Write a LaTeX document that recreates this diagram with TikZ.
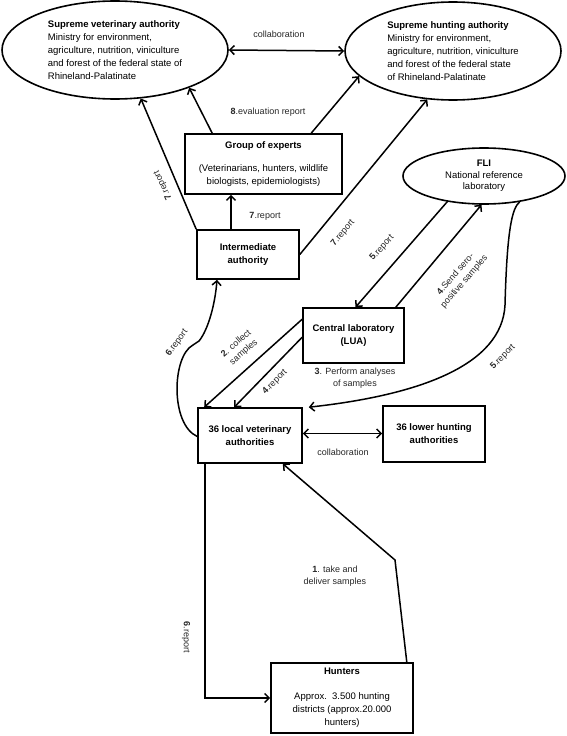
\documentclass[tikz,border=0pt]{standalone}
\usepackage{fontspec}
\setmainfont{Liberation Sans}
\usetikzlibrary{shapes.geometric,arrows.meta}

\begin{document}
\begin{tikzpicture}[x=1pt, y=-1pt, >={Straight Barb[length=4.5pt,width=9pt]},
  font=\fontsize{9.5}{13}\selectfont,
  box/.style={draw, line width=1.6pt, align=center, inner sep=2pt},
  oval/.style={draw, ellipse, line width=1.6pt, inner sep=0pt},
  link/.style={->, line width=1.5pt},
  note/.style={font=\fontsize{9}{11.5}\selectfont, text=black!85, align=center, inner sep=1pt}]
\useasboundingbox (0,0) rectangle (567,736);

% authorities at the top
\node[oval, minimum width=226, minimum height=98, align=left] (vet) at (115,50)
  {\textbf{Supreme veterinary authority}\\Ministry for environment,\\agriculture, nutrition, viniculture\\and forest of the federal state of\\Rhineland-Palatinate};
\node[oval, minimum width=216, minimum height=98, align=left] (hunt) at (453,51)
  {\textbf{Supreme hunting authority}\\Ministry for environment,\\agriculture, nutrition, viniculture\\and forest of the federal state\\of Rhineland-Palatinate};
\node[oval, minimum width=162, minimum height=56, align=center,
  font=\fontsize{9.5}{11.5}\selectfont] (fli) at (484,176)
  {\textbf{FLI}\\National reference\\laboratory};

\node[box, minimum width=157, minimum height=60] (experts) at (263.5,164)
  {\textbf{Group of experts}\\[10pt](Veterinarians, hunters, wildlife\\biologists, epidemiologists)};
\node[box, minimum width=102, minimum height=49] (inter) at (248,254.5)
  {\textbf{Intermediate}\\\textbf{authority}};
\node[box, minimum width=101, minimum height=55] (lua) at (353.5,335.5)
  {\textbf{Central laboratory}\\\textbf{(LUA)}};
\node[box, minimum width=104, minimum height=55] (local) at (250,435.5)
  {\textbf{36 local veterinary}\\\textbf{authorities}};
\node[box, minimum width=102, minimum height=56] (lower) at (434,434)
  {\textbf{36 lower hunting}\\\textbf{authorities}};
\node[box, minimum width=142, minimum height=70] (hunters) at (342,698)
  {\textbf{Hunters}\\[12pt]Approx.\ \ 3.500 hunting\\districts (approx.20.000\\hunters)};

% connectors
\draw[<->, line width=1.5pt] (vet.east) -- (hunt.west);
\draw[link] ([xshift=28]experts.north west) -- (vet.-27);
\draw[link] ([xshift=127]experts.north west) -- (hunt.195);
\draw[link] ([xshift=-17]inter.north) -- ([xshift=-17]inter.north |- experts.south);
\draw[link] (inter.north west) -- (vet.-62.5);
\draw[link] (inter.east) -- (hunt.242);
\draw[link] (fli.215) -- ([xshift=2]lua.north);
\draw[link] ([xshift=-9]lua.north east) -- (fli.265);
\draw[link] ([yshift=-12]lua.north west) -- ([xshift=7]local.north west);
\draw[link] ([yshift=-30]lua.north west) -- ([xshift=37]local.north west);
\draw[link] (fli.-36) .. controls (512,208) and (507,230) .. (505,305)
  .. controls (502,365) and (420,395) .. ([xshift=6]local.north east);
\draw[link] ([yshift=-1]local.west) .. controls (170,424) and (172,356) .. (193,345)
  -- (199,341) .. controls (208,330) and (215,305) .. ([xshift=-31]inter.south);
\draw[<->, line width=1.5pt] ([yshift=2]local.east) -- ([yshift=2]local.east -| lower.west);
\draw[link] ([xshift=-45]local.south) |- (hunters.west);
\draw[link] ([xshift=-7]hunters.north east) -- (395,560) -- ([xshift=-20]local.south east);

% labels
\node[note] (lcollab) at (279,34) {collaboration};
\node[note] (l8) at (268,112) {\textbf{8}.evaluation report};
\node[note] (l7a) at (265,216) {\textbf{7}.report};
\node[note, rotate=115] (l7b) at (163,185) {\textbf{7}.report};
\node[note, rotate=50] (l7c) at (343,233) {\textbf{7}.report};
\node[note, rotate=48] (l5a) at (382,248) {\textbf{5}.report};
\node[note, rotate=49] (l4a) at (460,278) {\textbf{4}.Send sero-\\positive samples};
\node[note, rotate=41] (l2) at (240,348) {\textbf{2}. collect\\samples};
\node[note, rotate=45] (l4b) at (275,382) {\textbf{4}.report};
\node[note] (l3) at (355,378) {\textbf{3}. Perform analyses\\of samples};
\node[note, rotate=45] (l5b) at (503,357) {\textbf{5}.report};
\node[note, rotate=55] (l6a) at (177,343) {\textbf{6}.report};
\node[note, rotate=-90] (l6b) at (186,637) {\textbf{6}.report};
\node[note] (lcollab2) at (343,452) {collaboration};
\node[note] (l1) at (335,576) {\textbf{1}. take and\\deliver samples};
\end{tikzpicture}
\end{document}
